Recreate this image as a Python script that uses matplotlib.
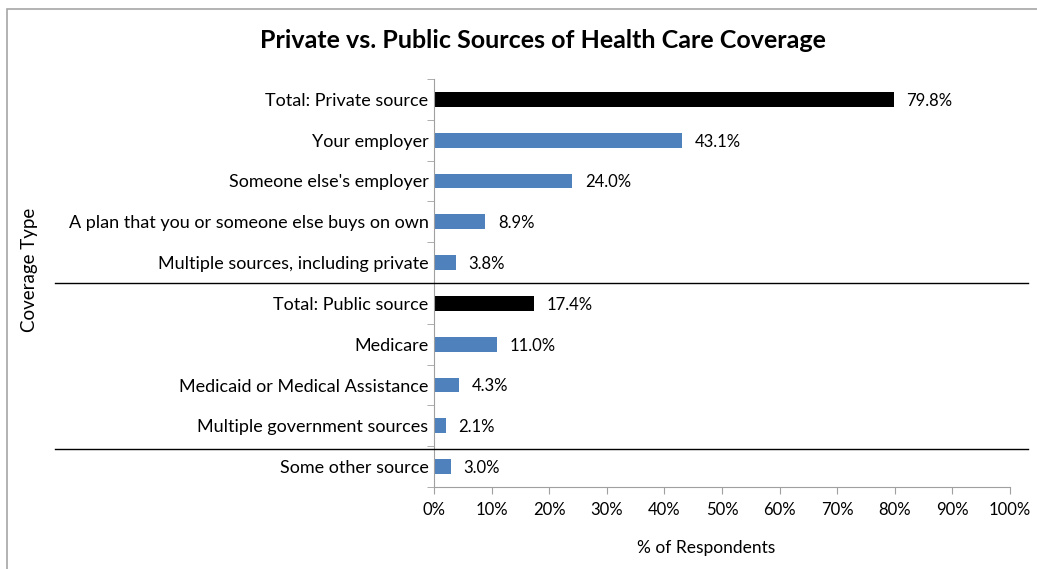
import matplotlib.pyplot as plt
from matplotlib.patches import Rectangle
from matplotlib.lines import Line2D

plt.rcParams['font.family'] = ['Lato', 'DejaVu Sans']

categories = [
    "Total: Private source",
    "Your employer",
    "Someone else's employer",
    "A plan that you or someone else buys on own",
    "Multiple sources, including private",
    "Total: Public source",
    "Medicare",
    "Medicaid or Medical Assistance",
    "Multiple government sources",
    "Some other source",
]
values = [79.8, 43.1, 24.0, 8.9, 3.8, 17.4, 11.0, 4.3, 2.1, 3.0]
is_total = [True, False, False, False, False, True, False, False, False, False]
xticks = list(range(0, 101, 10))

W, H = 1037, 569
fig = plt.figure(figsize=(W / 100, H / 100), dpi=100)
ax = fig.add_axes([434 / W, 1 - 487 / H, 576 / W, 408 / H])

colors = ["black" if t else "#4f81bd" for t in is_total]
y = list(range(len(categories)))
ax.barh(y, values, height=0.36, color=colors)
for yi, v in zip(y, values):
    ax.annotate(f"{v:.1f}%", (v, yi), xytext=(9, -1), textcoords="offset points",
                va="center", ha="left", fontsize=12)

ax.set_ylim(len(categories) - 0.5, -0.5)
ax.set_xlim(0, 100)
ax.set_xticks(xticks)
ax.set_xticklabels([f"{t}%" for t in xticks], fontsize=12)
ax.set_yticks(y)
ax.set_yticklabels(categories, fontsize=13)
ax.tick_params(axis="y", length=0, pad=4)
ax.set_yticks([i + 0.5 for i in range(-1, len(categories))], minor=True)
ax.tick_params(axis="y", which="minor", length=5, color="#a0a0a0")
ax.tick_params(axis="x", length=5, color="#a0a0a0", pad=6)
for s in ["top", "right"]:
    ax.spines[s].set_visible(False)
for s in ["left", "bottom"]:
    ax.spines[s].set_color("#a0a0a0")

ax.set_xlabel("% of Respondents", fontsize=12.5)
ax.xaxis.set_label_coords((706 - 434) / 576, -0.13)
fig.text(30 / W, 1 - 270 / H, "Coverage Type", rotation=90, fontsize=13.5,
         ha="center", va="center")
fig.text(543 / W, 1 - 40 / H, "Private vs. Public Sources of Health Care Coverage",
         fontsize=18, fontweight="bold", ha="center", va="center")

# separators between groups
for yy in [282.5, 448.5]:
    fig.add_artist(Line2D([55 / W, 1028 / W], [1 - yy / H, 1 - yy / H],
                          color="black", lw=1.0))

# chart frame
fig.add_artist(Rectangle((7 / W, -0.1), 1.2, 1 - 9 / H + 0.1, fill=False,
                         edgecolor="#a6a6a6", lw=1.2, transform=fig.transFigure))

fig.savefig("out.png", dpi=100)
